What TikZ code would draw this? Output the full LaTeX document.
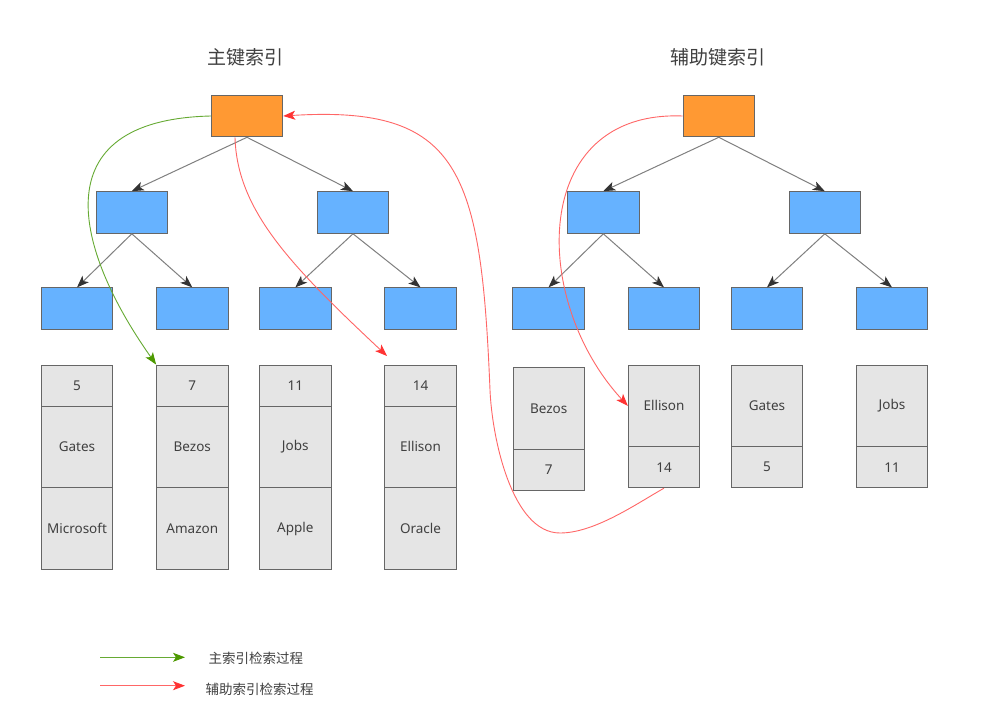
\documentclass[tikz,border=0pt]{standalone}
\usepackage{fontspec}
\setmainfont{Noto Sans}
\newfontfamily\cjk{Noto Sans CJK SC}
\usetikzlibrary{arrows.meta,calc}
\definecolor{orangebox}{HTML}{FF9933}
\definecolor{bluebox}{HTML}{66B2FF}
\definecolor{cellfill}{HTML}{E5E5E5}
\definecolor{edgegray}{HTML}{666666}
\definecolor{linegray}{HTML}{808080}
\definecolor{tipgray}{HTML}{333333}
\definecolor{greenline}{HTML}{66AA33}
\definecolor{greentip}{HTML}{4D9900}
\definecolor{redline}{HTML}{FF6666}
\definecolor{redtip}{HTML}{FF3333}
\definecolor{txt}{HTML}{404040}
\begin{document}
\begin{tikzpicture}[x=1pt,y=-1pt,
 rootbox/.style={draw=edgegray, fill=orangebox, line width=1pt, minimum width=71.4pt, minimum height=41.6pt, inner sep=0pt},
 treebox/.style={rootbox, fill=bluebox},
 cellbox/.style={draw=edgegray, fill=cellfill, line width=0.9pt, minimum width=71.4pt, inner sep=0pt, font=\fontsize{13.5}{14}\selectfont, text=txt},
 treearrow/.style={draw=linegray, line width=1pt, -{Stealth[length=12pt,width=9pt,inset=3pt,color=tipgray]}},
 greenpath/.style={draw=greenline, line width=0.9pt, -{Stealth[length=12pt,width=9pt,inset=3pt,color=greentip]}},
 redpath/.style={draw=redline, line width=0.9pt, -{Stealth[length=12pt,width=9pt,inset=3pt,color=redtip]}},
 title/.style={font=\cjk\fontsize{19}{20}\selectfont, text=txt},
 legend/.style={font=\cjk\fontsize{13.5}{14}\selectfont, text=txt, anchor=west}]
\fill[white] (0,0) rectangle (988,725);
\useasboundingbox (0,0) rectangle (988,725);

% titles
\node[title] (t1) at (245,57) {主键索引};
\node[title] (t2) at (718,57) {辅助键索引};

% left tree
\node[rootbox] (lroot) at (247,116) {};
\node[treebox] (la) at (131.8,212.5) {};
\node[treebox] (lb) at (353,212.5) {};
\node[treebox] (la1) at (77,308.7) {};
\node[treebox] (la2) at (192.3,308.7) {};
\node[treebox] (lb1) at (295.3,308.7) {};
\node[treebox] (lb2) at (420.5,308.7) {};
\draw[treearrow] (lroot.south) -- (la.north);
\draw[treearrow] (lroot.south) -- (lb.north);
\draw[treearrow] (la.south) -- (la1.north);
\draw[treearrow] (la.south) -- (la2.north);
\draw[treearrow] (lb.south) -- (lb1.north);
\draw[treearrow] (lb.south) -- (lb2.north);

% right tree
\node[rootbox] (rroot) at (718.8,116) {};
\node[treebox] (ra) at (603.3,212.5) {};
\node[treebox] (rb) at (824.8,212.5) {};
\node[treebox] (ra1) at (548.5,308.7) {};
\node[treebox] (ra2) at (664,308.7) {};
\node[treebox] (rb1) at (767,308.7) {};
\node[treebox] (rb2) at (892,308.7) {};
\draw[treearrow] (rroot.south) -- (ra.north);
\draw[treearrow] (rroot.south) -- (rb.north);
\draw[treearrow] (ra.south) -- (ra1.north);
\draw[treearrow] (ra.south) -- (ra2.north);
\draw[treearrow] (rb.south) -- (rb1.north);
\draw[treearrow] (rb.south) -- (rb2.north);

% left data columns
\node[cellbox, minimum height=41pt] (k5) at (77,385.5) {5};
\node[cellbox, minimum height=81.7pt] (n5) at (77,446.85) {Gates};
\node[cellbox, minimum height=81.6pt] (c5) at (77,528.5) {Microsoft};
\node[cellbox, minimum height=41pt] (k7) at (192.3,385.5) {7};
\node[cellbox, minimum height=81.7pt] (n7) at (192.3,446.85) {Bezos};
\node[cellbox, minimum height=81.6pt] (c7) at (192.3,528.5) {Amazon};
\node[cellbox, minimum height=41pt] (k11) at (295.3,385.5) {11};
\node[cellbox, minimum height=81.7pt] (n11) at (295.3,446.85) {Jobs};
\node[cellbox, minimum height=81.6pt] (c11) at (295.3,528.5) {Apple};
\node[cellbox, minimum height=41pt] (k14) at (420.5,385.5) {14};
\node[cellbox, minimum height=81.7pt] (n14) at (420.5,446.85) {Ellison};
\node[cellbox, minimum height=81.6pt] (c14) at (420.5,528.5) {Oracle};

% right data columns
\node[cellbox, minimum height=81.6pt] (sb) at (548.7,408.5) {Bezos};
\node[cellbox, minimum height=41pt] (sb7) at (548.7,469.8) {7};
\node[cellbox, minimum height=81.7pt] (se) at (664,405.85) {Ellison};
\node[cellbox, minimum height=41pt] (se14) at (664,467.2) {14};
\node[cellbox, minimum height=81.7pt] (sg) at (767,405.85) {Gates};
\node[cellbox, minimum height=41pt] (sg5) at (767,467.2) {5};
\node[cellbox, minimum height=81.7pt] (sj) at (892,405.85) {Jobs};
\node[cellbox, minimum height=41pt] (sj11) at (892,467.2) {11};

% search paths
\draw[greenpath] (lroot.west) .. controls (40,120) and (75,250) .. (k7.north west);
\coordinate (r1start) at ($(lroot.south)+(-12,0)$);
\coordinate (r1end) at (387,356);
\draw[redpath] (r1start) .. controls (237,210) and (290,265) .. (r1end);
\draw[redpath] (rroot.west) .. controls (530,110) and (530,300) .. (se.west);
\draw[redpath] (se14.south) .. controls (634.6,505) and (594,533) .. (560,533)
  .. controls (512,533) and (492,438) .. (490,390)
  .. controls (481,170) and (460,105) .. (lroot.east);

% legend
\coordinate (g1) at (100,657.3);
\coordinate (g2) at (185,657.3);
\coordinate (h1) at (100,685.7);
\coordinate (h2) at (185,685.7);
\draw[greenpath] (g1) -- (g2);
\draw[redpath] (h1) -- (h2);
\node[legend] (lg1) at (205,658.3) {主索引检索过程};
\node[legend] (lg2) at (202,689.3) {辅助索引检索过程};
\end{tikzpicture}
\end{document}
